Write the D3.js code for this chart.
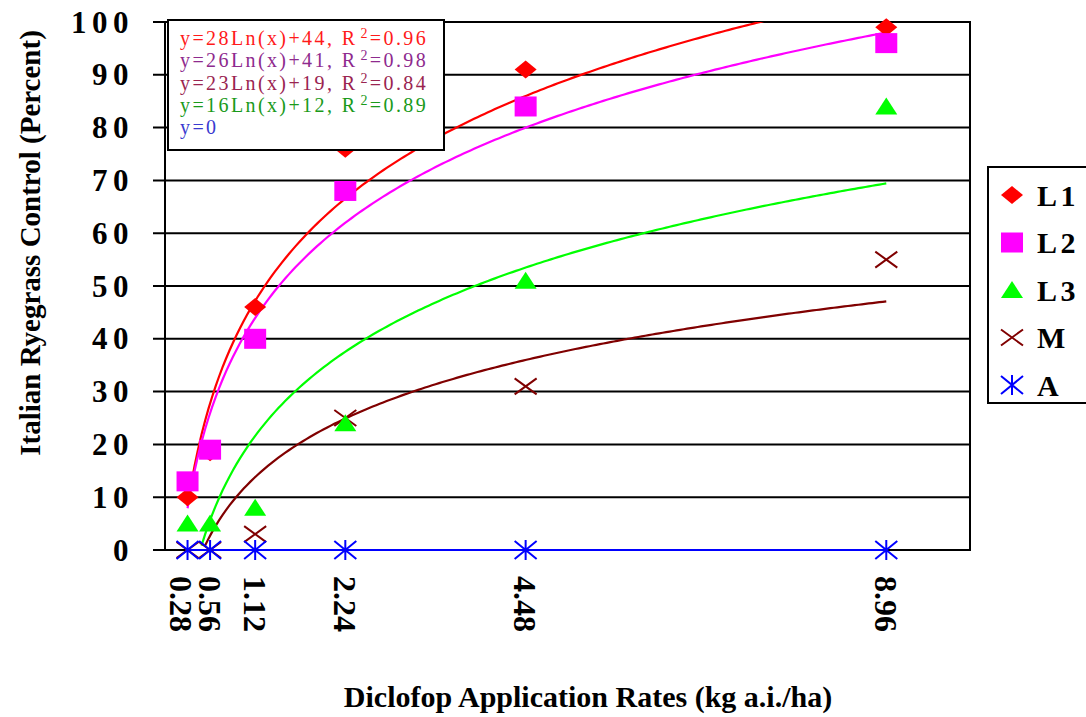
<!DOCTYPE html>
<html>
<head>
<meta charset="utf-8">
<script src="https://cdn.jsdelivr.net/npm/d3@7/dist/d3.min.js"></script>
<style>
  html, body { margin: 0; padding: 0; background: #ffffff; }
  svg { display: block; }
  text { font-family: "Liberation Serif", "Times New Roman", Times, serif; }
</style>
</head>
<body>
<svg id="chart" width="1086" height="717"></svg>
<script>
// ---------------- DATA ----------------
const rates = [0.28, 0.56, 1.12, 2.24, 4.48, 8.96];
const rateLabels = ["0.28", "0.56", "1.12", "2.24", "4.48", "8.96"];
const seriesNames = ["L1", "L2", "L3", "M", "A"];
const L1 = [10, 18.5, 46, 76, 91, 99];
const L2 = [13, 19, 40, 68, 84, 96];
const L3 = [5, 5, 8, 24, 51, 84];
const M  = [0, 0, 3, 25, 31, 55];
const A  = [0, 0, 0, 0, 0, 0];
// logarithmic trend lines y = a*ln(x) + b (as printed in the chart)
const trendA = [28, 26, 23, 16, 0];
const trendB = [44, 41, 19, 12, 0];
const trendSeries = ["L1", "L2", "L3", "M", "A"];
const equationLabels = [
  ["y=28Ln(x)+44, R", "=0.96"],
  ["y=26Ln(x)+41, R", "=0.98"],
  ["y=23Ln(x)+19, R", "=0.84"],
  ["y=16Ln(x)+12, R", "=0.89"],
  ["y=0", ""]
];
const yTicks = [0, 10, 20, 30, 40, 50, 60, 70, 80, 90, 100];

// ---------------- STYLE ----------------
const colors = { L1: "#ff0000", L2: "#ff00ff", L3: "#00ff00", M: "#800000", A: "#0000ff" };
const eqColors = ["#ff1a1a", "#8e2a8e", "#9a2450", "#1a9a1a", "#3a3ad0"];
const shapes = { L1: "diamond", L2: "square", L3: "triangle", M: "x", A: "star" };
const values = { L1, L2, L3, M, A };

const svg = d3.select("#chart");
const x = d3.scaleLinear().domain([0, 10]).range([165, 970]);
const y = d3.scaleLinear().domain([0, 100]).range([550, 22]);

// gridlines
svg.append("g").selectAll("line").data(yTicks).join("line")
  .attr("x1", 153).attr("x2", 970)
  .attr("y1", d => y(d)).attr("y2", d => y(d))
  .attr("stroke", "#000").attr("stroke-width", 2);
// axis line and right border
svg.append("line").attr("x1", 165).attr("x2", 165).attr("y1", y(100) - 1).attr("y2", y(0) + 1)
  .attr("stroke", "#000").attr("stroke-width", 2);
svg.append("line").attr("x1", 970).attr("x2", 970).attr("y1", y(100) - 1).attr("y2", y(0) + 1)
  .attr("stroke", "#000").attr("stroke-width", 2);

// y tick labels
svg.append("g").selectAll("text").data(yTicks).join("text")
  .attr("x", 134).attr("y", d => y(d) + 10.5)
  .attr("text-anchor", "end")
  .attr("font-size", 31).attr("font-weight", "bold")
  .attr("letter-spacing", 5.5)
  .text(d => d);

// x tick labels (rotated)
svg.append("g").selectAll("text").data(rates).join("text")
  .attr("transform", (d, i) => `translate(${x(d) - (i === 0 ? 6 : 0)},576) rotate(90)`)
  .attr("dy", "0.36em")
  .attr("font-size", 32).attr("font-weight", "bold")
  .text((d, i) => rateLabels[i]);

// axis titles
svg.append("text")
  .attr("transform", "translate(40,243) rotate(-90)")
  .attr("text-anchor", "middle")
  .attr("font-size", 29).attr("font-weight", "bold")
  .text("Italian Ryegrass Control (Percent)");
svg.append("text")
  .attr("x", 588).attr("y", 707)
  .attr("text-anchor", "middle")
  .attr("font-size", 30).attr("font-weight", "bold")
  .text("Diclofop Application Rates (kg a.i./ha)");

// clip
svg.append("clipPath").attr("id", "plotclip").append("rect")
  .attr("x", 165).attr("y", 22).attr("width", 805).attr("height", 531);

// trend lines
const line = d3.line().x(d => x(d[0])).y(d => y(d[1]));
const xs = d3.range(0, 201).map(i => rates[0] + (rates[rates.length - 1] - rates[0]) * i / 200);
const trendG = svg.append("g").attr("clip-path", "url(#plotclip)");
trendSeries.forEach((s, k) => {
  const pts = xs.map(v => [v, trendA[k] * Math.log(v) + trendB[k]]).filter(p => p[1] >= -0.5);
  trendG.append("path").attr("d", line(pts))
    .attr("fill", "none").attr("stroke", colors[s]).attr("stroke-width", 2.2);
});

// markers
function drawMarker(g, shape, color, cx, cy) {
  const w = 11, h = 9;
  if (shape === "diamond") {
    g.append("path").attr("d", `M${cx - w},${cy} L${cx},${cy - h} L${cx + w},${cy} L${cx},${cy + h} Z`).attr("fill", color);
  } else if (shape === "square") {
    g.append("rect").attr("x", cx - 11).attr("y", cy - 10).attr("width", 22).attr("height", 20).attr("fill", color);
  } else if (shape === "triangle") {
    g.append("path").attr("d", `M${cx - 11},${cy + 8} L${cx},${cy - 9} L${cx + 11},${cy + 8} Z`).attr("fill", color);
  } else if (shape === "x") {
    g.append("path").attr("d", `M${cx - 11},${cy - 8} L${cx + 11},${cy + 8} M${cx - 11},${cy + 8} L${cx + 11},${cy - 8}`)
      .attr("stroke", color).attr("stroke-width", 2).attr("fill", "none");
  } else if (shape === "star") {
    g.append("path").attr("d", `M${cx - 11},${cy - 9} L${cx + 11},${cy + 9} M${cx - 11},${cy + 9} L${cx + 11},${cy - 9} M${cx},${cy - 10} L${cx},${cy + 10}`)
      .attr("stroke", color).attr("stroke-width", 2).attr("fill", "none");
  }
}
const markG = svg.append("g");
["M", "L3", "L1", "L2", "A"].forEach(s => {
  values[s].forEach((v, i) => drawMarker(markG, shapes[s], colors[s], x(rates[i]), y(v)));
});

// equation box
const eq = svg.append("g");
eq.append("rect").attr("x", 168).attr("y", 20).attr("width", 276).attr("height", 130)
  .attr("fill", "#fff").attr("stroke", "#000").attr("stroke-width", 2);
equationLabels.forEach((lab, i) => {
  const t = eq.append("text").attr("x", 180).attr("y", 45 + i * 22.3)
    .attr("font-size", 20).attr("letter-spacing", 2.4).attr("fill", eqColors[i]);
  t.append("tspan").text(lab[0]);
  if (lab[1]) {
    t.append("tspan").attr("dx", 3).attr("dy", -7).attr("font-size", 14).text("2");
    t.append("tspan").attr("dy", 7).text(lab[1]);
  }
});

// legend
const lg = svg.append("g");
lg.append("rect").attr("x", 988).attr("y", 167).attr("width", 120).attr("height", 236)
  .attr("fill", "#fff").attr("stroke", "#000").attr("stroke-width", 2);
seriesNames.forEach((s, i) => {
  const cy = 195 + i * 47.5;
  drawMarker(lg, shapes[s], colors[s], 1012, cy);
  lg.append("text").attr("x", 1037).attr("y", cy + 10.5)
    .attr("font-size", 30).attr("font-weight", "bold").attr("letter-spacing", 3.5)
    .text(s);
});
</script>
</body>
</html>
